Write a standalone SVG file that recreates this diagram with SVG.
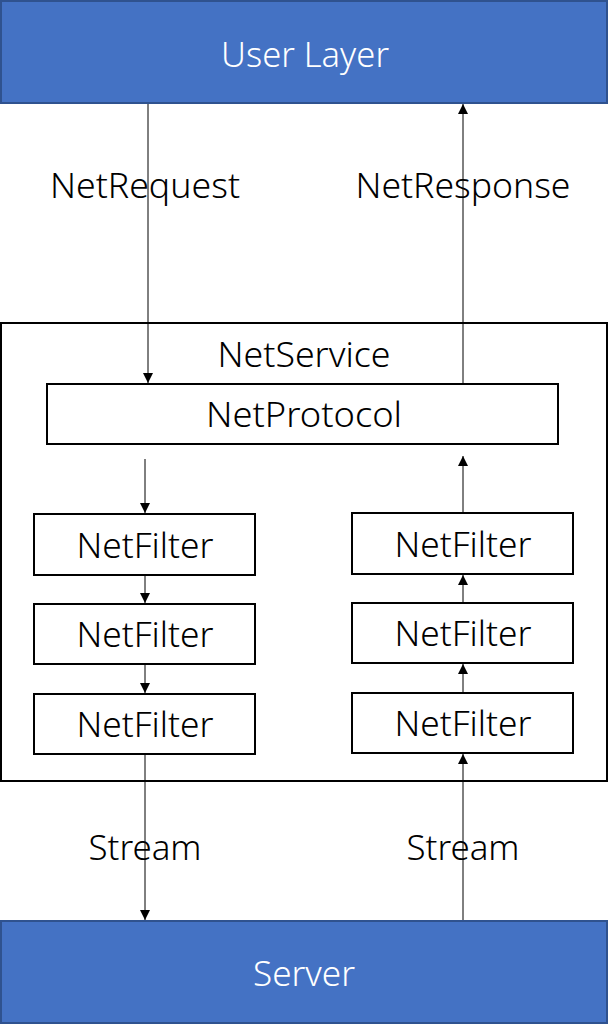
<svg xmlns="http://www.w3.org/2000/svg" width="609" height="1025" viewBox="0 0 609 1025">
<style>
.t{font-family:"Noto Sans","Open Sans",sans-serif;font-size:34px;font-weight:300;text-anchor:middle;fill:#000}
.w{fill:#fff}
.blue{fill:#4472C4;stroke:#2F528F;stroke-width:2}
.box{fill:#fff;stroke:#000;stroke-width:2}
.c{stroke:#000;stroke-width:1;fill:none}
</style>
<defs>
<marker id="ah" markerWidth="10" markerHeight="10" refX="10" refY="5" orient="auto" markerUnits="userSpaceOnUse">
<path d="M0,0 L10,5 L0,10 z" fill="#000"/>
</marker>
</defs>
<rect width="609" height="1025" fill="#fff"/>
<g id="netservice">
<rect class="box" x="1" y="323" width="606" height="458"/>
<text class="t" x="304" y="367" textLength="173" lengthAdjust="spacingAndGlyphs">NetService</text>
</g>
<g id="userlayer">
<rect class="blue" x="1" y="1" width="606" height="102"/>
<text class="t w" x="305" y="67" textLength="168" lengthAdjust="spacingAndGlyphs">User Layer</text>
</g>
<g id="server">
<rect class="blue" x="1" y="921" width="606" height="102"/>
<text class="t w" x="304" y="986" textLength="102" lengthAdjust="spacingAndGlyphs">Server</text>
</g>
<g id="netprotocol">
<rect class="box" x="47" y="384" width="511" height="60"/>
<text class="t" x="304" y="427" textLength="196" lengthAdjust="spacingAndGlyphs">NetProtocol</text>
</g>
<g id="lf1"><rect class="box" x="34" y="514" width="221" height="61"/><text class="t" x="145" y="558" textLength="137" lengthAdjust="spacingAndGlyphs">NetFilter</text></g>
<g id="lf2"><rect class="box" x="34" y="604" width="221" height="60"/><text class="t" x="145" y="647" textLength="137" lengthAdjust="spacingAndGlyphs">NetFilter</text></g>
<g id="lf3"><rect class="box" x="34" y="694" width="221" height="60"/><text class="t" x="145" y="737" textLength="137" lengthAdjust="spacingAndGlyphs">NetFilter</text></g>
<g id="rf1"><rect class="box" x="352" y="513" width="221" height="61"/><text class="t" x="463" y="557" textLength="137" lengthAdjust="spacingAndGlyphs">NetFilter</text></g>
<g id="rf2"><rect class="box" x="352" y="603" width="221" height="60"/><text class="t" x="463" y="646" textLength="137" lengthAdjust="spacingAndGlyphs">NetFilter</text></g>
<g id="rf3"><rect class="box" x="352" y="693" width="221" height="60"/><text class="t" x="463" y="736" textLength="137" lengthAdjust="spacingAndGlyphs">NetFilter</text></g>
<g id="connectors">
<line class="c" x1="148" y1="104" x2="148" y2="383" marker-end="url(#ah)"/>
<line class="c" x1="463" y1="383" x2="463" y2="104" marker-end="url(#ah)"/>
<line class="c" x1="145" y1="459" x2="145" y2="513" marker-end="url(#ah)"/>
<line class="c" x1="145" y1="576" x2="145" y2="603" marker-end="url(#ah)"/>
<line class="c" x1="145" y1="665" x2="145" y2="693" marker-end="url(#ah)"/>
<line class="c" x1="145" y1="755" x2="145" y2="920" marker-end="url(#ah)"/>
<line class="c" x1="463" y1="512" x2="463" y2="456" marker-end="url(#ah)"/>
<line class="c" x1="463" y1="602" x2="463" y2="575" marker-end="url(#ah)"/>
<line class="c" x1="463" y1="692" x2="463" y2="664" marker-end="url(#ah)"/>
<line class="c" x1="463" y1="920" x2="463" y2="754" marker-end="url(#ah)"/>
<text class="t" x="145" y="198" textLength="190" lengthAdjust="spacingAndGlyphs">NetRequest</text>
<text class="t" x="463" y="198" textLength="215" lengthAdjust="spacingAndGlyphs">NetResponse</text>
<text class="t" x="145" y="860" textLength="113" lengthAdjust="spacingAndGlyphs">Stream</text>
<text class="t" x="463" y="860" textLength="113" lengthAdjust="spacingAndGlyphs">Stream</text>
</g>
</svg>
